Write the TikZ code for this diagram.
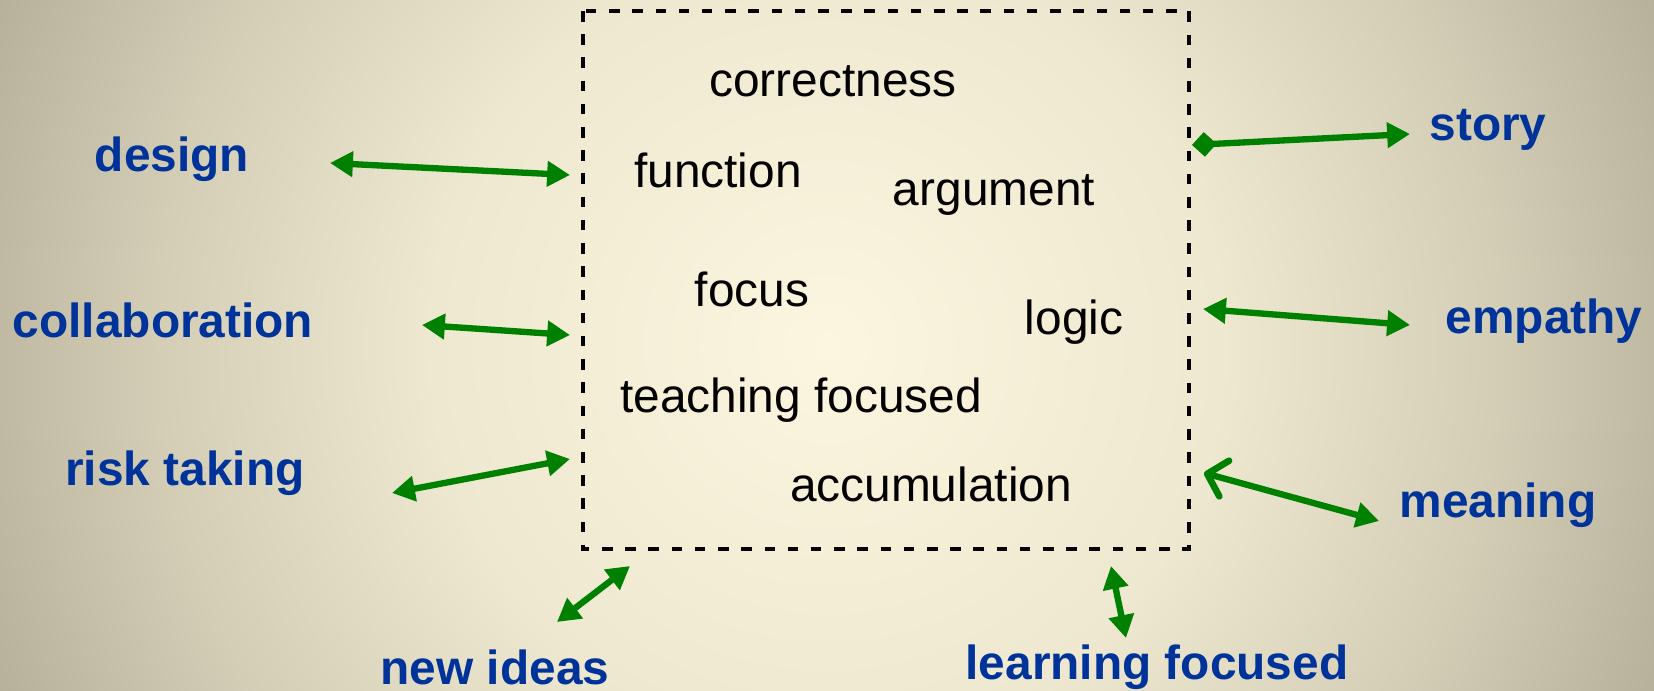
\documentclass[tikz,border=0pt]{standalone}
\usepackage{fontspec}
\setmainfont{Liberation Sans}
\usetikzlibrary{arrows.meta}
\definecolor{lblblue}{RGB}{0,51,153}
\definecolor{arrgreen}{RGB}{0,128,0}
\pgfdeclareradialshading{bgglow}{\pgfpoint{0bp}{0bp}}{%
  color(0bp)=(rgb,255:red,252;green,246;blue,224);
  color(11bp)=(rgb,255:red,238;green,232;blue,208);
  color(18.5bp)=(rgb,255:red,212;green,206;blue,183);
  color(26bp)=(rgb,255:red,178;green,172;blue,150);
  color(28.5bp)=(rgb,255:red,165;green,162;blue,142);
  color(50bp)=(rgb,255:red,160;green,157;blue,138)}
\tikzset{
  inner/.style={font=\fontsize{13.6}{16}\selectfont, text=black, inner sep=0pt},
  lbl/.style={font=\fontsize{13.6}{16}\selectfont\bfseries, text=lblblue, inner sep=0pt},
  dbl/.style={draw=arrgreen, line width=1.8pt, {Triangle[length=6.5pt,width=7pt]}-{Triangle[length=6.5pt,width=7pt]}},
  frame/.style={draw=black, line width=1.1pt, dash pattern=on 3pt off 3.6pt}
}
\begin{document}
\begin{tikzpicture}[x=0.01cm,y=-0.01cm]
\useasboundingbox (0,0) rectangle (1654,691);
\shade[shading=bgglow] (-73,-555) rectangle (1727,1245);
\draw[frame] (583,11) rectangle (1189,549);
% inner words
\node[inner] (correctness) at (833,81) {correctness};
\node[inner] (function) at (718,170) {function};
\node[inner] (argument) at (994,195) {argument};
\node[inner] (focus) at (752,289) {focus};
\node[inner] (logic) at (1074,322) {logic};
\node[inner] (teaching) at (801,400) {teaching focused};
\node[inner] (accum) at (931,484) {accumulation};
% outer labels
\node[lbl] (design) at (172,159) {design};
\node[lbl] (collab) at (163,320) {collaboration};
\node[lbl] (risk) at (185,473) {risk taking};
\node[lbl] (story) at (1488,130) {story};
\node[lbl] (empathy) at (1544,321) {empathy};
\node[lbl] (meaning) at (1498,505) {meaning};
\node[lbl] (newideas) at (495,667) {new ideas};
\node[lbl] (learning) at (1157,667) {learning focused};
% arrow end points
\coordinate (dA) at (330,163); \coordinate (dB) at (570,175);
\coordinate (cA) at (422,325); \coordinate (cB) at (570,335);
\coordinate (rA) at (392,493); \coordinate (rB) at (570,459);
\coordinate (nA) at (557,622); \coordinate (nB) at (630,566);
\coordinate (lA) at (1111,566); \coordinate (lB) at (1126,638);
\coordinate (mA) at (1204,473); \coordinate (mB) at (1379,521);
\coordinate (eA) at (1203,309); \coordinate (eB) at (1410,325);
\coordinate (sA) at (1192,145); \coordinate (sB) at (1410,134);
\draw[dbl] (dA) -- (dB);
\draw[dbl] (cA) -- (cB);
\draw[dbl] (rA) -- (rB);
\draw[dbl] (nA) -- (nB);
\draw[dbl] (lA) -- (lB);
\draw[draw=arrgreen, line width=1.8pt, line cap=round, {Straight Barb[length=5pt,width=10.5pt,line width=1.9pt,round]}-{Triangle[length=6.5pt,width=7pt]}] (mA) -- (mB);
\draw[dbl] (eA) -- (eB);
\draw[draw=arrgreen, line width=1.8pt, {Diamond[length=7pt,width=7pt]}-{Triangle[length=6.5pt,width=7pt]}] (sA) -- (sB);
\end{tikzpicture}
\end{document}
